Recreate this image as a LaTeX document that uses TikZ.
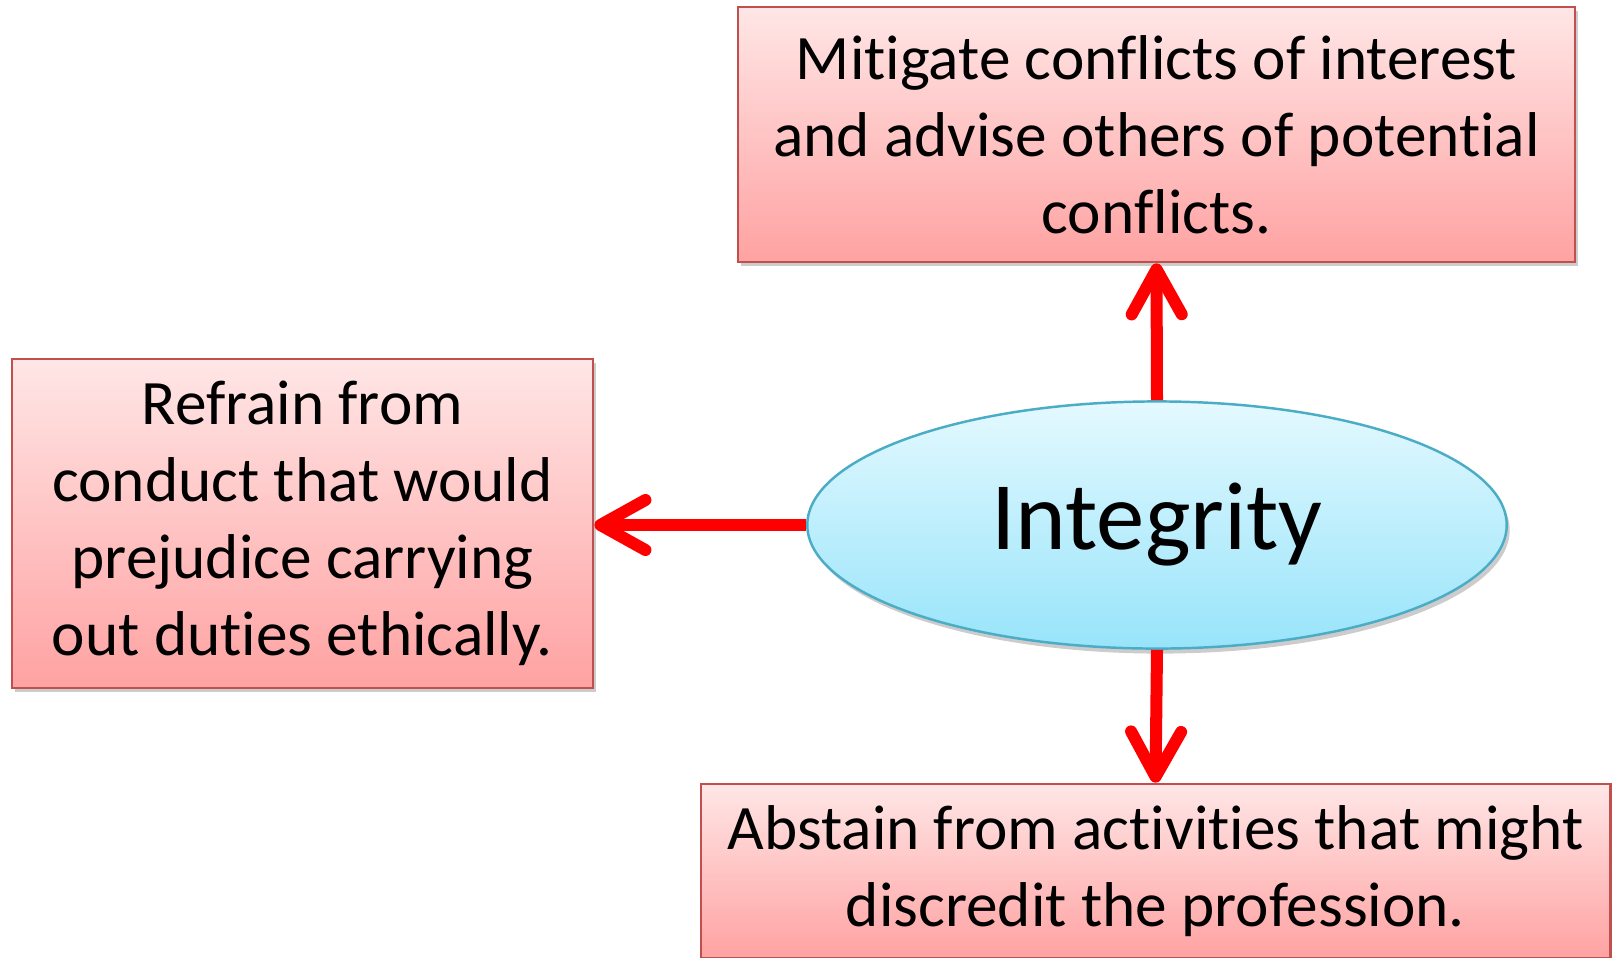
\documentclass[tikz,border=0pt]{standalone}
\usepackage{fontspec}
\setmainfont{Carlito}[Ligatures=NoCommon]
\usepackage{tikz}
\usetikzlibrary{arrows.meta,positioning,shapes.geometric,shadows}
\definecolor{boxtop}{RGB}{255,230,230}
\definecolor{boxbot}{RGB}{255,162,162}
\definecolor{boxline}{RGB}{192,80,77}
\definecolor{elltop}{RGB}{228,249,255}
\definecolor{ellbot}{RGB}{152,228,250}
\definecolor{ellline}{RGB}{75,172,198}
\definecolor{arrred}{RGB}{255,0,0}

\begin{document}
\begin{tikzpicture}[x=0.01cm, y=-0.01cm,
  box/.style={rectangle, draw=boxline, line width=0.7pt, top color=boxtop, bottom color=boxbot,
      drop shadow={shadow xshift=0.03cm, shadow yshift=-0.04cm, opacity=0.2, fill=black},
      font=\fontsize{18}{21.9}\selectfont, align=center, text=black, inner sep=0pt},
  arr/.style={-{Straight Barb[length=0.45cm, width=0.5cm, round]}, line width=0.12cm, arrred}]
\useasboundingbox (0,0) rectangle (1612,957);
% Center integrity node
\node[ellipse, draw=ellline, line width=0.7pt, top color=elltop, bottom color=ellbot,
      drop shadow={shadow xshift=0.03cm, shadow yshift=-0.05cm, opacity=0.2, fill=black},
      minimum width=6.99cm, minimum height=2.47cm, inner sep=0pt,
      font=\fontsize{27.5}{30}\selectfont] (integ) at (1157,525) {Integrity};
% Outcomes
\node[box, minimum width=8.37cm, minimum height=2.55cm] (mitig) at (1156.5,134.5)
  {Mitigate conflicts of interest\\and advise others of potential\\conflicts.};
\node[box, minimum width=5.81cm, minimum height=3.29cm] (refrain) at (302.5,523.5)
  {Refrain from\\conduct that would\\prejudice carrying\\out duties ethically.};
\node[box, minimum width=9.09cm, minimum height=1.74cm] (abstain) at (1155.5,871)
  {Abstain from activities that might\\discredit the profession.};
% Arrows
\draw[arr] (integ.north) -- (mitig.south);
\draw[arr] (integ.west) -- (integ.west -| refrain.east);
\draw[arr] (integ.south) -- (abstain.north);
\end{tikzpicture}
\end{document}
